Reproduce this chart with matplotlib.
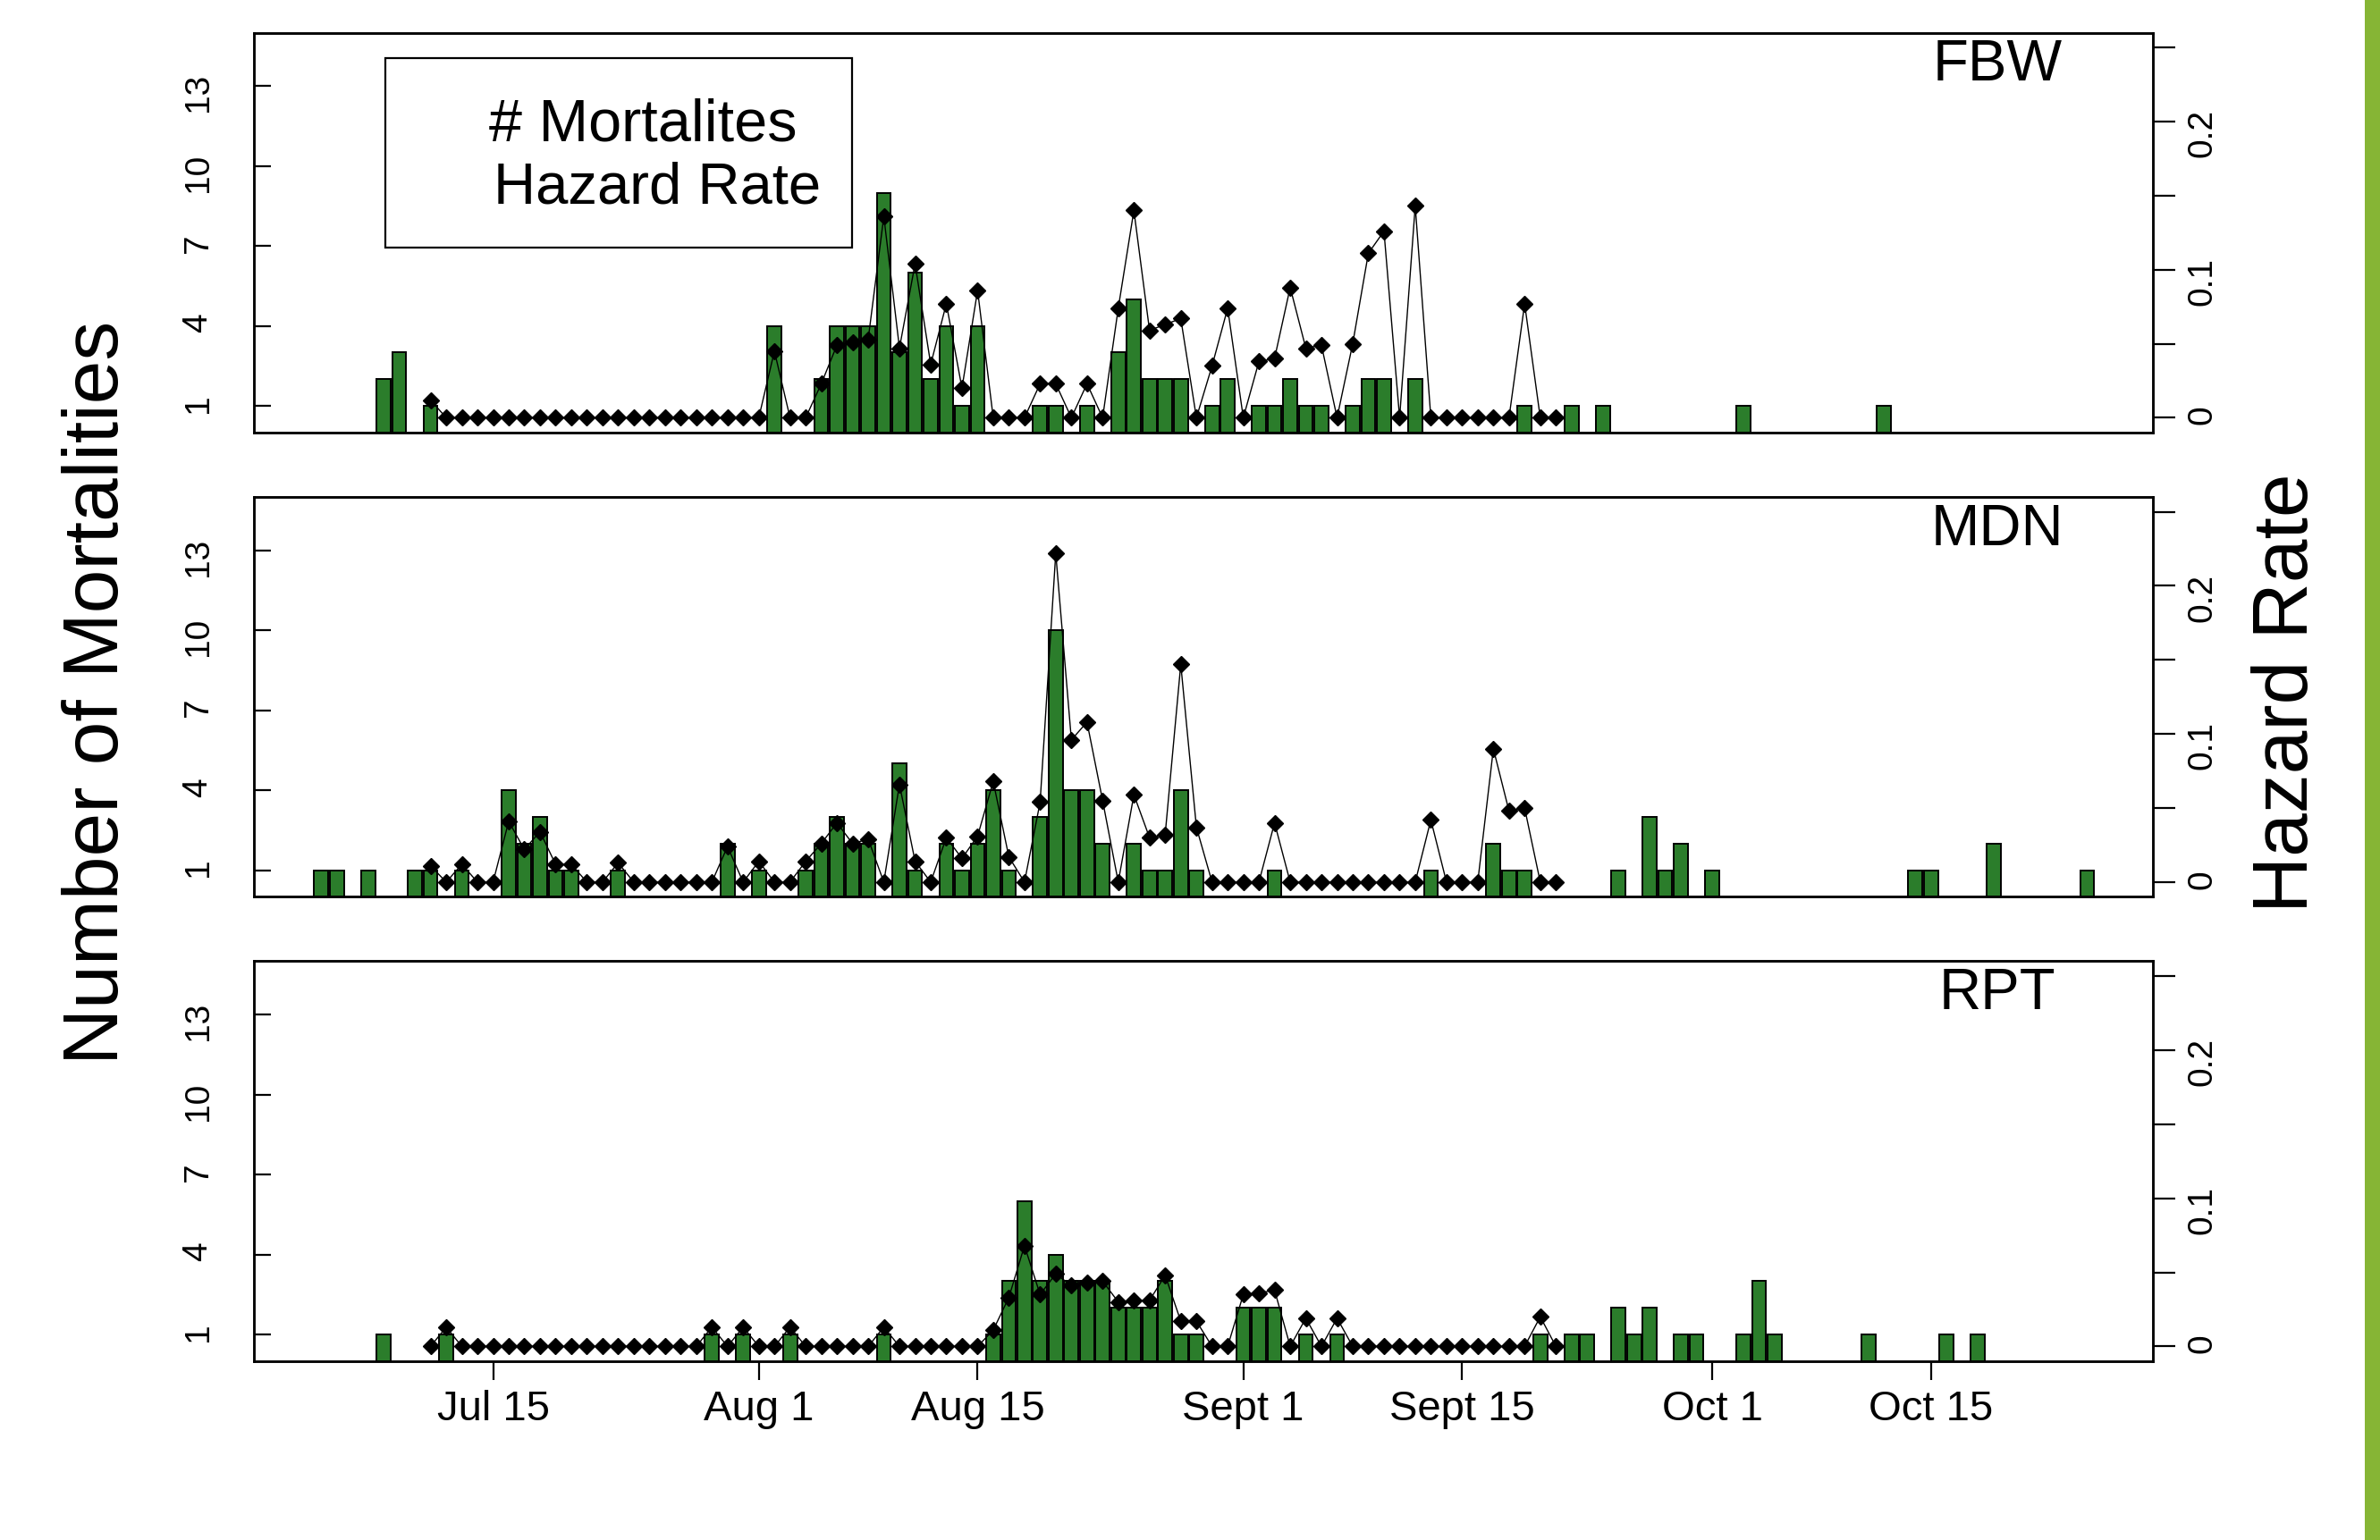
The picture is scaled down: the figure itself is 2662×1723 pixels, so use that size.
import matplotlib
matplotlib.use("Agg")
import matplotlib.pyplot as plt
from matplotlib.patches import Rectangle

plt.rcParams['font.family'] = ['Liberation Sans', 'DejaVu Sans']

# day index = days since Jul 1 (Jul 1 = 0)
date_ticks = [14, 31, 45, 62, 76, 92, 106]
date_labels = ["Jul 15", "Aug 1", "Aug 15", "Sept 1", "Sept 15", "Oct 1", "Oct 15"]

count_ticks = [1, 4, 7, 10, 13]
hazard_ticks = [0, 0.05, 0.1, 0.15, 0.2, 0.25]
hazard_labels = ["0", "", "0.1", "", "0.2", ""]

# hazard rate is estimated for days 10..82 in every group
hazard_days = list(range(10, 83))

# ---- FBW ----
fbw_bar_days = [7, 8, 10, 32, 35, 36, 37, 38, 39, 40, 41, 42, 43, 44, 45, 49, 50, 52,
                54, 55, 56, 57, 58, 60, 61, 63, 64, 65, 66, 67, 69, 70, 71, 73, 80,
                83, 85, 94, 103]
fbw_counts = [2, 3, 1, 4, 2, 4, 4, 4, 9, 3, 6, 2, 4, 1, 4, 1, 1, 1,
              3, 5, 2, 2, 2, 1, 2, 1, 1, 2, 1, 1, 1, 2, 2, 2, 1,
              1, 1, 1, 1]
fbw_hazard = [
    0.012, 0, 0, 0, 0, 0, 0, 0, 0, 0,                              # 10-19
    0, 0, 0, 0, 0, 0, 0, 0, 0, 0,                                  # 20-29
    0, 0, 0.045, 0, 0, 0.023, 0.049, 0.051, 0.053, 0.136,          # 30-39
    0.047, 0.104, 0.036, 0.077, 0.020, 0.086, 0, 0, 0, 0.023,      # 40-49
    0.023, 0, 0.023, 0, 0.074, 0.140, 0.059, 0.063, 0.067, 0,      # 50-59
    0.035, 0.074, 0, 0.038, 0.040, 0.088, 0.047, 0.049, 0, 0.050,  # 60-69
    0.111, 0.126, 0, 0.143, 0, 0, 0, 0, 0, 0,                      # 70-79
    0.077, 0, 0,                                                   # 80-82
]

# ---- MDN ----
mdn_bar_days = [3, 4, 6, 9, 10, 12, 15, 16, 17, 18, 19, 22, 29, 31, 34, 35, 36, 37,
                38, 40, 41, 43, 44, 45, 46, 47, 49, 50, 51, 52, 53, 55, 56, 57, 58,
                59, 64, 74, 78, 79, 80, 86, 88, 89, 90, 92, 105, 106, 110, 116]
mdn_counts = [1, 1, 1, 1, 1, 1, 4, 2, 3, 1, 1, 1, 2, 1, 1, 2, 3, 2,
              2, 5, 1, 2, 1, 2, 4, 1, 3, 10, 4, 4, 2, 2, 1, 1, 4,
              1, 1, 1, 2, 1, 1, 1, 3, 1, 2, 1, 1, 1, 2, 1]
mdn_hazard = [
    0.011, 0, 0.012, 0, 0, 0.041, 0.022, 0.034, 0.012, 0.012,      # 10-19
    0, 0, 0.013, 0, 0, 0, 0, 0, 0, 0.024,                          # 20-29
    0, 0.014, 0, 0, 0.014, 0.026, 0.040, 0.026, 0.029, 0,          # 30-39
    0.066, 0.014, 0, 0.030, 0.016, 0.031, 0.068, 0.017, 0, 0.054,  # 40-49
    0.222, 0.096, 0.108, 0.055, 0, 0.059, 0.030, 0.032, 0.147, 0.037,  # 50-59
    0, 0, 0, 0, 0.040, 0, 0, 0, 0, 0,                              # 60-69
    0, 0, 0, 0, 0.042, 0, 0, 0, 0.090, 0.048,                      # 70-79
    0.050, 0, 0,                                                   # 80-82
]

# ---- RPT ----
rpt_bar_days = [7, 11, 28, 30, 33, 39, 46, 47, 48, 49, 50, 51, 52, 53, 54, 55, 56,
                57, 58, 59, 62, 63, 64, 66, 68, 81, 83, 84, 86, 87, 88, 90, 91, 94,
                95, 96, 102, 107, 109]
rpt_counts = [1, 1, 1, 1, 1, 1, 1, 3, 6, 3, 4, 3, 3, 3, 2, 2, 2,
              3, 1, 1, 2, 2, 2, 1, 1, 1, 1, 1, 2, 1, 2, 1, 1, 1,
              3, 1, 1, 1, 1]
rpt_hazard = [
    0, 0.013, 0, 0, 0, 0, 0, 0, 0, 0,                              # 10-19
    0, 0, 0, 0, 0, 0, 0, 0, 0.013, 0,                              # 20-29
    0.013, 0, 0, 0.013, 0, 0, 0, 0, 0, 0.013,                      # 30-39
    0, 0, 0, 0, 0, 0, 0.011, 0.033, 0.068, 0.035,                  # 40-49
    0.049, 0.041, 0.043, 0.044, 0.030, 0.031, 0.031, 0.048, 0.017, 0.017,  # 50-59
    0, 0, 0.035, 0.036, 0.038, 0, 0.019, 0, 0.019, 0,              # 60-69
    0, 0, 0, 0, 0, 0, 0, 0, 0, 0,                                  # 70-79
    0, 0.020, 0,                                                   # 80-82
]

groups = [
    ("FBW", fbw_bar_days, fbw_counts, fbw_hazard),
    ("MDN", mdn_bar_days, mdn_counts, mdn_hazard),
    ("RPT", rpt_bar_days, rpt_counts, rpt_hazard),
]

bar_color = '#2b7d2b'
fig = plt.figure(figsize=(26.62, 17.23), dpi=100)

left, width = 0.1067, 0.7979
panel_bottoms = [0.7191, 0.4176, 0.1161]
panel_height = 0.2597

for i, (name, bar_days, counts, hazard) in enumerate(groups):
    ax = fig.add_axes([left, panel_bottoms[i], width, panel_height])
    ax.bar(bar_days, counts, width=0.9, color=bar_color, edgecolor='black',
           linewidth=1.4, zorder=2)
    ax.set_xlim(-1.3, 120.2)
    ax.set_ylim(0, 15)
    ax.set_yticks(count_ticks)
    ax.tick_params(axis='y', direction='in', length=14, width=1.6,
                   labelsize=28, labelrotation=90, pad=32)
    for s in ax.spines.values():
        s.set_linewidth(1.8)

    ax2 = ax.twinx()
    ax2.plot(hazard_days, hazard, color='black', linewidth=1.0, marker='D',
             markersize=9, markerfacecolor='black', markeredgecolor='black')
    ax2.set_ylim(-0.01, 0.26)
    ax2.set_yticks(hazard_ticks)
    ax2.set_yticklabels(hazard_labels)
    ax2.tick_params(axis='y', direction='out', length=18, width=1.6,
                    labelsize=28, labelrotation=90, pad=9)
    for s in ax2.spines.values():
        s.set_linewidth(1.8)

    ax.text(0.918, 0.918, name, transform=ax.transAxes, ha='center', va='center',
            fontsize=47)

    if i == 2:
        ax.set_xticks(date_ticks)
        ax.set_xticklabels(date_labels)
        ax.tick_params(axis='x', direction='out', length=15, width=1.6,
                       labelsize=34, pad=8)
    else:
        ax.set_xticks([])

    if i == 0:
        ax.add_patch(Rectangle((0.069, 0.463), 0.246, 0.474, transform=ax.transAxes,
                               fill=False, edgecolor='black', linewidth=1.6, zorder=5))
        ax.text(0.124, 0.767, "# Mortalites", transform=ax.transAxes, ha='left',
                va='center', fontsize=48, zorder=6)
        ax.text(0.126, 0.611, "Hazard Rate", transform=ax.transAxes, ha='left',
                va='center', fontsize=47, zorder=6)

fig.text(0.041, 0.55, "Number of Mortalities", rotation=90, ha='center', va='center',
         fontsize=63)
fig.text(0.961, 0.55, "Hazard Rate", rotation=90, ha='center', va='center',
         fontsize=63)

# green strip along the right edge of the slide
fig.patches.append(Rectangle((0.9935, 0), 0.0065, 1, transform=fig.transFigure,
                             facecolor='#86b535', edgecolor='none'))

fig.savefig("out.png", dpi=100)
